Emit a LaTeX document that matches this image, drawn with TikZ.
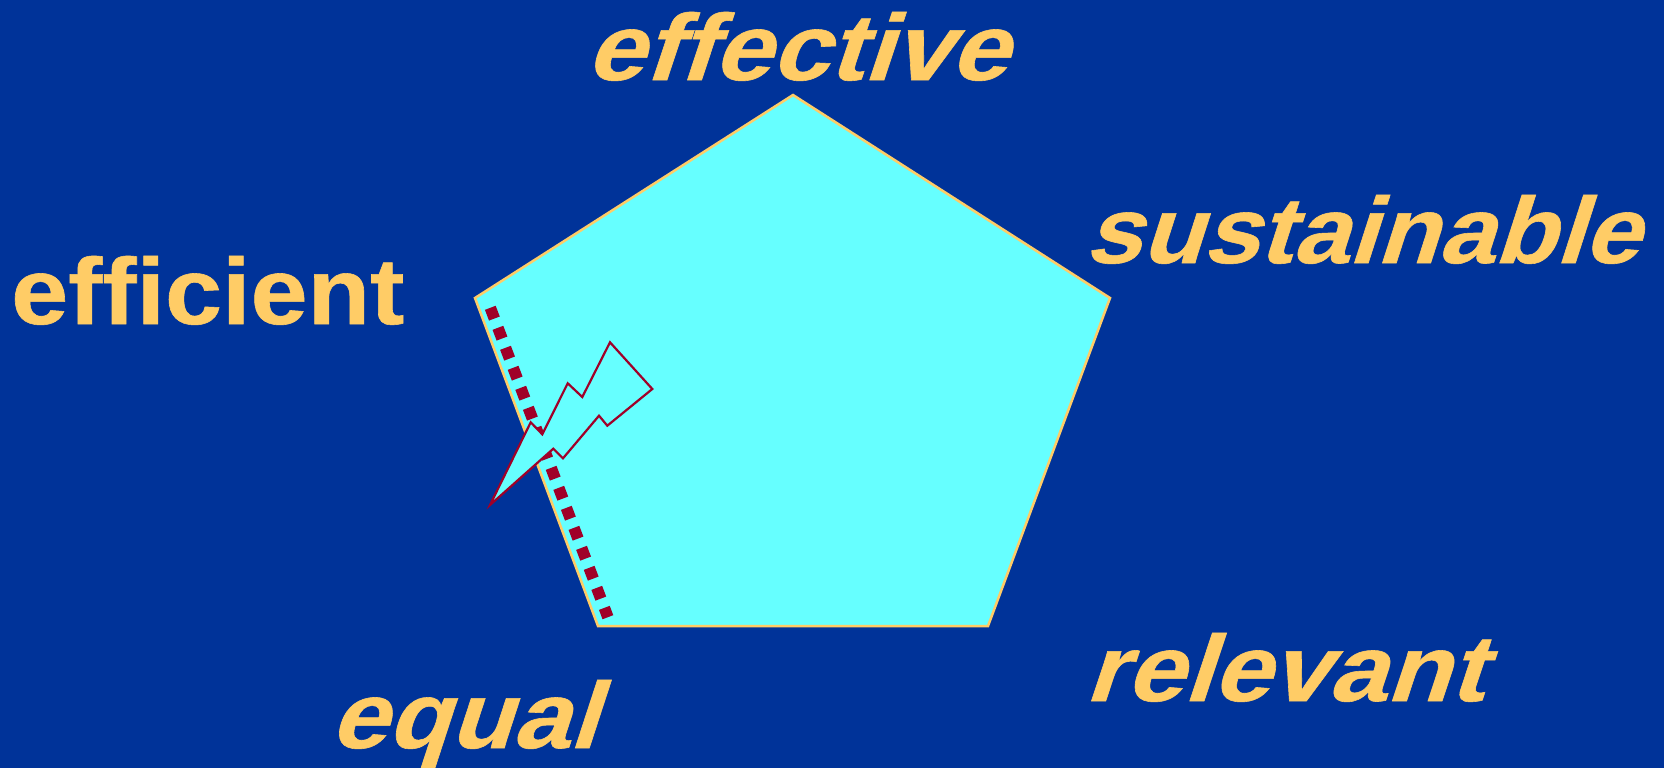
\documentclass[tikz,border=0pt]{standalone}
\usepackage{graphicx}
\usepackage{fontspec}
\setmainfont{Liberation Sans}
\newfontfamily\slantfont[FakeSlant=0.3,FakeBold=0.6]{Liberation Sans Bold}
\newfontfamily\plainfont[FakeBold=0.6]{Liberation Sans Bold}
\definecolor{bgblue}{HTML}{003399}
\definecolor{penta}{HTML}{66FFFF}
\definecolor{gold}{HTML}{FFCC66}
\definecolor{crimson}{HTML}{A00028}
\tikzset{
  word/.style={anchor=base west,inner sep=0pt,text=gold,font=\fontsize{94}{94}\selectfont},
}
\newcommand{\wideit}[2]{\scalebox{#1}[1]{\slantfont #2}}
\newcommand{\wideup}[2]{\scalebox{#1}[1]{\plainfont #2}}
\begin{document}
\begin{tikzpicture}[x=1pt,y=-1pt]
\path[use as bounding box,fill=bgblue] (0,0) rectangle (1664,768);
\clip (0,0) rectangle (1664,768);
\draw[fill=penta,draw=gold,line width=2.5pt,line join=miter]
  (793,95) -- (1110,298) -- (988,626) -- (598,626) -- (475,298) -- cycle;
\coordinate (dotsA) at (490.3,307.8);
\coordinate (dotsB) at (607.9,617.2);
\draw[crimson,line width=11.5pt,dash pattern=on 11.5pt off 9.9pt] (dotsA) -- (dotsB);
\draw[fill=penta,draw=crimson,line width=2.2pt,line join=miter]
  (490,505) -- (530.7,422.3) -- (542.3,434.3) -- (567.7,383.3) -- (582.3,397) -- (610,342.3)
  -- (652.3,389) -- (607.3,425.7) -- (599,415.7) -- (563,458.3) -- (553.3,448.7) -- cycle;
\node[word] (effective) at (585,80) {\wideit{1.106}{effective}};
\node[word] (sustainable) at (1084,263) {\wideit{1.072}{sustainable}};
\node[word] (efficient) at (11,324) {\wideup{1.091}{efficient}};
\node[word] (relevant) at (1084,701) {\wideit{1.107}{relevant}};
\node[word] (equal) at (329,748) {\wideit{1.089}{equal}};
\end{tikzpicture}
\end{document}
